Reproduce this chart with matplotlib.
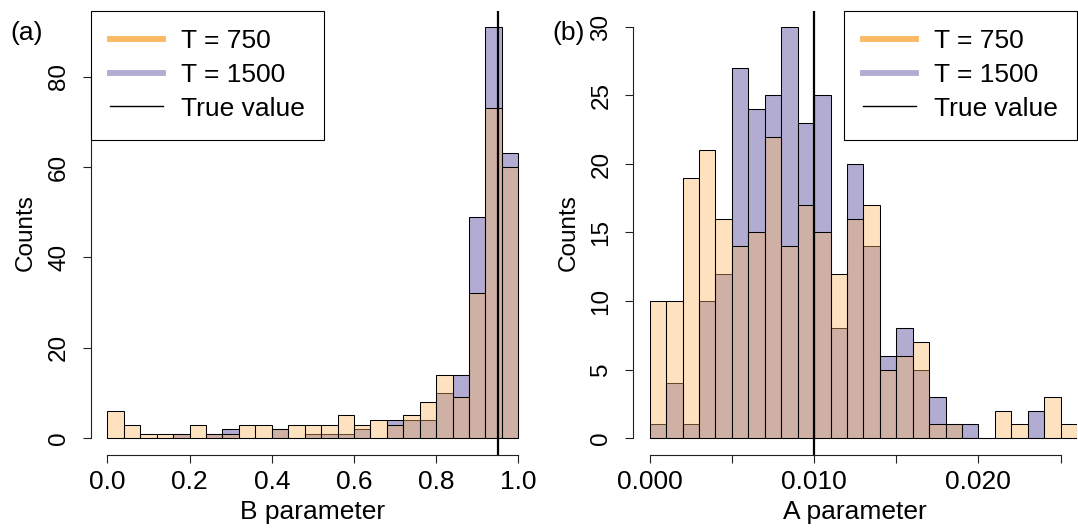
import numpy as np
import matplotlib
matplotlib.use("Agg")
import matplotlib.pyplot as plt
from matplotlib.lines import Line2D

plt.rcParams['font.family'] = ['Liberation Sans', 'DejaVu Sans']

# ---- B parameter histogram counts (bins of width 0.04 from 0 to 1) ----
b_start, b_width = 0.0, 0.04
b_counts_750 = [6, 3, 1, 1, 1, 3, 1, 1, 3, 3, 2, 3, 3, 3, 5, 3, 4, 3, 5, 8,
                14, 9, 32, 73, 60]
b_counts_1500 = [0, 0, 0, 0, 1, 0, 1, 2, 0, 0, 2, 0, 1, 1, 1, 2, 0, 4, 4, 4,
                 10, 14, 49, 91, 63]
b_true = 0.95

# ---- A parameter histogram counts (bins of width 0.001 from 0 to 0.026) ----
a_start, a_width = 0.0, 0.001
a_counts_750 = [10, 10, 19, 21, 16, 14, 15, 22, 14, 17, 15, 12, 16, 17, 5, 6,
                7, 1, 1, 0, 0, 2, 1, 0, 3, 1]
a_counts_1500 = [1, 4, 1, 10, 12, 27, 24, 25, 30, 23, 25, 8, 20, 14, 6, 8,
                 5, 3, 1, 1, 0, 0, 0, 2, 0, 0]
a_true = 0.010

series_labels = ["T = 750", "T = 1500", "True value"]
col_750 = "#FDB863"
col_1500 = "#B2ABD2"

FS = 19      # horizontal text
FSR = 17.5   # rotated text

W, H = 1078, 529
fig = plt.figure(figsize=(W / 100, H / 100), dpi=100)
fig.patch.set_facecolor("white")

ax_left = fig.add_axes([91 / W, (H - 454.5) / H, 443.7 / W, 444 / H])
ax_right = fig.add_axes([633.3 / W, (H - 454.5) / H, 443.7 / W, 444 / H])


def draw_hist(ax, start, width, c750, c1500, truth):
    edges = start + width * np.arange(len(c750))
    ax.bar(edges, c1500, width=width, align='edge', color=col_1500,
           edgecolor='black', linewidth=0.75, zorder=2)
    ax.bar(edges, c750, width=width, align='edge',
           color=matplotlib.colors.to_rgba(col_750, 0.4),
           edgecolor='black', linewidth=0.75, zorder=3)
    ax.axvline(truth, color='black', linewidth=1.6, zorder=4)


def style_axes(ax, xlim, ylim, xticks, xlabels, yticks, xbounds, ybounds,
               xlabel):
    ax.set_xlim(*xlim)
    ax.set_ylim(*ylim)
    for s in ('top', 'right'):
        ax.spines[s].set_visible(False)
    for s in ('left', 'bottom'):
        ax.spines[s].set_linewidth(0.8)
        ax.spines[s].set_color('#222222')
    ax.spines['bottom'].set_bounds(*xbounds)
    ax.spines['left'].set_bounds(*ybounds)
    ax.set_xticks(xticks)
    ax.set_xticklabels(xlabels)
    ax.set_yticks(yticks)
    ax.set_yticklabels([str(v) for v in yticks])
    ax.tick_params(axis='both', direction='out', length=6, width=0.8,
                   color='#222222')
    ax.tick_params(axis='x', labelsize=FS, pad=5.5)
    ax.tick_params(axis='y', labelsize=FSR, pad=9, labelrotation=90)
    for lab in ax.get_yticklabels():
        lab.set_va('center')
    ax.set_xlabel(xlabel, fontsize=FS, labelpad=4)
    ax.set_ylabel("Counts", fontsize=FSR, labelpad=8)
    ax.set_facecolor('none')


def add_legend(ax, loc):
    handles = [Line2D([], [], color=col_750, linewidth=4.2),
               Line2D([], [], color=col_1500, linewidth=4.2),
               Line2D([], [], color='black', linewidth=1.0)]
    leg = ax.legend(handles, series_labels, loc=loc, borderaxespad=0,
                    fontsize=FS, frameon=True, fancybox=False,
                    edgecolor='black', framealpha=1, borderpad=0.72,
                    handlelength=2.0, handletextpad=0.68, labelspacing=0.36)
    leg.get_frame().set_linewidth(0.8)
    leg.set_zorder(10)


draw_hist(ax_left, b_start, b_width, b_counts_750, b_counts_1500, b_true)
style_axes(ax_left, (-0.04, 1.04), (-3.64, 94.64),
           [0.0, 0.2, 0.4, 0.6, 0.8, 1.0],
           ["0.0", "0.2", "0.4", "0.6", "0.8", "1.0"],
           [0, 20, 40, 60, 80], (0, 1), (0, 80), "B parameter")
add_legend(ax_left, 'upper left')

draw_hist(ax_right, a_start, a_width, a_counts_750, a_counts_1500, a_true)
style_axes(ax_right, (-0.001, 0.026), (-1.2, 31.2),
           [0.0, 0.005, 0.010, 0.015, 0.020, 0.025],
           ["0.000", "", "0.010", "", "0.020", ""],
           [0, 5, 10, 15, 20, 25, 30], (0, 0.025), (0, 30), "A parameter")
add_legend(ax_right, 'upper right')

fig.text(10 / W, 1 - 40 / H, "(a)", fontsize=FS, ha='left', va='baseline')
fig.text(552 / W, 1 - 40 / H, "(b)", fontsize=FS, ha='left', va='baseline')

fig.savefig("out.png", dpi=100, facecolor='white')
